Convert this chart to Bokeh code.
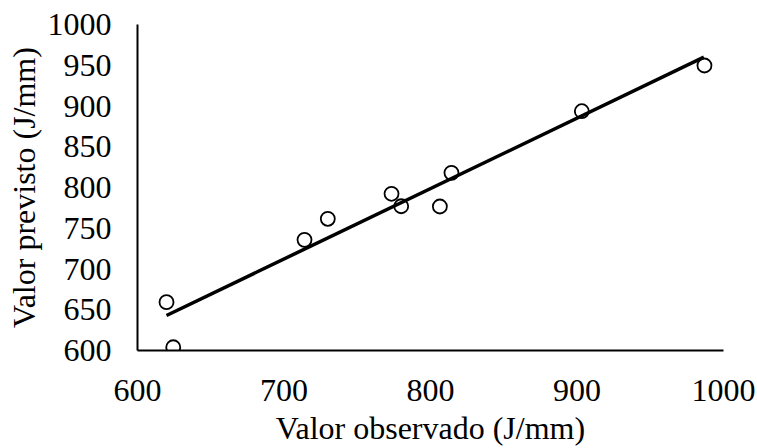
from bokeh.plotting import figure
from bokeh.models import Range1d, FixedTicker
from bokeh.embed import file_html
from bokeh.resources import INLINE

# Observed vs predicted values (J/mm)
observed = [619.8, 624.4, 714.0, 729.9, 773.4, 780.0, 806.4, 814.3, 903.3, 987.0]
predicted = [659.3, 604.0, 735.8, 761.6, 792.3, 777.0, 776.7, 818.0, 893.6, 949.7]

# Trend line end points
trend_x = [619.8, 986.6]
trend_y = [643.0, 959.9]

x_ticks = [600, 700, 800, 900, 1000]
y_ticks = [600, 650, 700, 750, 800, 850, 900, 950, 1000]

FONT = "Liberation Serif"
FS = "32px"

p = figure(width=757, height=448, output_backend="svg", toolbar_location=None,
           x_range=Range1d(600, 1000), y_range=Range1d(600, 1000),
           min_border_left=137, min_border_right=34, min_border_top=24, min_border_bottom=98)

p.line(trend_x, trend_y, line_color="black", line_width=3.5)
p.scatter(observed, predicted, marker="circle", size=14, fill_color=None,
          line_color="black", line_width=1.8)

p.xgrid.visible = False
p.ygrid.visible = False
p.outline_line_color = None
p.background_fill_color = "white"
p.border_fill_color = "white"

p.xaxis.ticker = FixedTicker(ticks=x_ticks)
p.yaxis.ticker = FixedTicker(ticks=y_ticks)
p.xaxis.axis_label = "Valor observado (J/mm)"
p.yaxis.axis_label = "Valor previsto (J/mm)"

for ax in (p.xaxis[0], p.yaxis[0]):
    ax.axis_line_color = "black"
    ax.axis_line_width = 2
    ax.major_tick_line_color = None
    ax.minor_tick_line_color = None
    ax.major_tick_out = 0
    ax.major_tick_in = 0
    ax.minor_tick_out = 0
    ax.major_label_text_font = FONT
    ax.major_label_text_font_size = FS
    ax.major_label_text_color = "black"
    ax.axis_label_text_font = FONT
    ax.axis_label_text_font_size = FS
    ax.axis_label_text_font_style = "normal"
    ax.axis_label_text_color = "black"

p.xaxis.major_label_standoff = 29
p.xaxis.axis_label_standoff = 6
p.yaxis.major_label_standoff = 26
p.yaxis.axis_label_standoff = 3

open("out.html", "w").write(file_html(p, INLINE))
